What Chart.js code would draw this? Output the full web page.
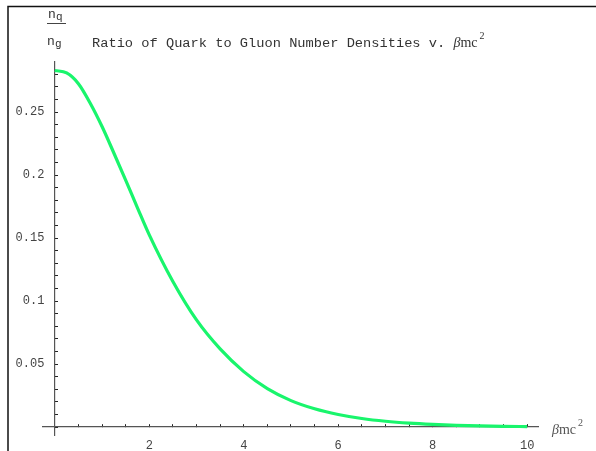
<!DOCTYPE html>
<html>
<head>
<meta charset="utf-8">
<script src="https://cdn.jsdelivr.net/npm/chart.js@4.4.1/dist/chart.umd.min.js"></script>
<style>
  html, body { margin: 0; padding: 0; background: #fff; }
  canvas { display: block; }
</style>
</head>
<body>
<canvas id="ratio" width="596" height="451"></canvas>
<script>
// values (beta m c^2 vs n_q / n_g)
var betaMc2 = [0, 0.25, 0.5, 0.75, 1, 1.25, 1.5, 1.75, 2, 2.5, 3, 3.5, 4, 4.5, 5, 5.5, 6, 6.5, 7, 7.5, 8, 8.5, 9, 9.5, 10];
var ratio = [0.283, 0.281, 0.2725, 0.257, 0.2385, 0.2175, 0.196, 0.174, 0.1525, 0.1155, 0.085, 0.062, 0.044, 0.0305, 0.021, 0.0145, 0.0100, 0.0068, 0.0046, 0.0031, 0.0021, 0.0014, 0.0009, 0.0006, 0.0004];
var xTickLabels = [2, 4, 6, 8, 10];
var yTickLabels = [0.05, 0.1, 0.15, 0.2, 0.25];

var monoFont = '"Liberation Mono", "DejaVu Sans Mono", monospace';
var serifFont = '"Liberation Serif", "DejaVu Serif", serif';

var frameAndText = {
    id: 'frameAndText',
    afterDraw: function (chart) {
        var ctx = chart.ctx;
        ctx.save();
        // frame (top and left only visible)
        ctx.strokeStyle = '#111';
        ctx.lineWidth = 1.5;
        ctx.beginPath();
        ctx.moveTo(8, 451);
        ctx.lineTo(8, 6.5);
        ctx.lineTo(596, 6.5);
        ctx.stroke();

        ctx.fillStyle = '#333';
        ctx.textBaseline = 'alphabetic';
        ctx.textAlign = 'left';

        // n_q / n_g
        ctx.font = '13px ' + monoFont;
        ctx.fillText('n', 48, 18);
        ctx.fillText('n', 47, 45);
        ctx.font = '11px ' + monoFont;
        ctx.fillText('q', 56, 20);
        ctx.fillText('g', 55, 47);
        ctx.strokeStyle = '#444';
        ctx.lineWidth = 1;
        ctx.beginPath();
        ctx.moveTo(47, 23.5);
        ctx.lineTo(66, 23.5);
        ctx.stroke();

        // title
        ctx.font = '13.7px ' + monoFont;
        var t = 'Ratio of Quark to Gluon Number Densities v. ';
        ctx.fillText(t, 92, 47);
        var x = 92 + ctx.measureText(t).width;
        ctx.font = 'italic 14px ' + serifFont;
        ctx.fillText('\u03b2', x, 47);
        x += ctx.measureText('\u03b2').width;
        ctx.font = '14px ' + serifFont;
        ctx.fillText('mc', x, 47);
        x += ctx.measureText('mc').width + 2;
        ctx.font = '10px ' + serifFont;
        ctx.fillText('2', x, 39);

        // x axis label
        ctx.fillStyle = '#555';
        x = 552;
        ctx.font = 'italic 14px ' + serifFont;
        ctx.fillText('\u03b2', x, 434);
        x += ctx.measureText('\u03b2').width;
        ctx.font = '14px ' + serifFont;
        ctx.fillText('mc', x, 434);
        x += ctx.measureText('mc').width + 2;
        ctx.font = '10px ' + serifFont;
        ctx.fillText('2', x, 426);
        ctx.restore();
    }
};

var yRange = { min: -0.0063, max: 0.2897 };

new Chart(document.getElementById('ratio'), {
    type: 'line',
    data: {
        datasets: [
            {
                label: 'n_q / n_g',
                data: betaMc2.map(function (b, i) { return { x: b, y: ratio[i] }; }),
                borderColor: '#19f56c',
                borderWidth: 3.2,
                pointRadius: 0,
                fill: false,
                cubicInterpolationMode: 'monotone',
                yAxisID: 'y'
            }
        ]
    },
    options: {
        responsive: false,
        devicePixelRatio: 1,
        animation: false,
        layout: { padding: { left: 43, right: 58, top: 62, bottom: 16 } },
        plugins: {
            legend: { display: false },
            title: { display: false },
            tooltip: { enabled: false }
        },
        scales: {
            x: {
                type: 'linear',
                position: { y: 0 },
                min: -0.25,
                max: 10.23,
                border: { display: true, color: '#555', width: 1.2 },
                grid: { drawOnChartArea: false, drawTicks: true, tickLength: -3, tickColor: '#222', tickWidth: 1 },
                ticks: {
                    stepSize: 0.5,
                    includeBounds: false,
                    autoSkip: false,
                    maxRotation: 0,
                    padding: 15,
                    color: '#444',
                    font: { family: monoFont, size: 12 },
                    callback: function (v) {
                        var r = Math.round(v * 10) / 10;
                        return xTickLabels.indexOf(r) >= 0 ? String(r) : '';
                    }
                }
            },
            // axis line and tick marks at x = 0
            y: {
                type: 'linear',
                position: { x: 0 },
                min: yRange.min,
                max: yRange.max,
                border: { display: true, color: '#555', width: 1.2 },
                grid: { drawOnChartArea: false, drawTicks: true, tickLength: -4, tickColor: '#222', tickWidth: 1 },
                ticks: {
                    stepSize: 0.01,
                    includeBounds: false,
                    autoSkip: false,
                    callback: function () { return ''; }
                }
            },
            // tick labels, set a little left of the axis
            yLabels: {
                type: 'linear',
                position: { x: -0.22 },
                min: yRange.min,
                max: yRange.max,
                border: { display: false },
                grid: { display: false },
                ticks: {
                    stepSize: 0.01,
                    includeBounds: false,
                    autoSkip: false,
                    color: '#444',
                    font: { family: monoFont, size: 12 },
                    callback: function (v) {
                        var r = Math.round(v * 100) / 100;
                        return yTickLabels.indexOf(r) >= 0 ? String(r) : '';
                    }
                }
            }
        }
    },
    plugins: [frameAndText]
});
</script>
</body>
</html>
